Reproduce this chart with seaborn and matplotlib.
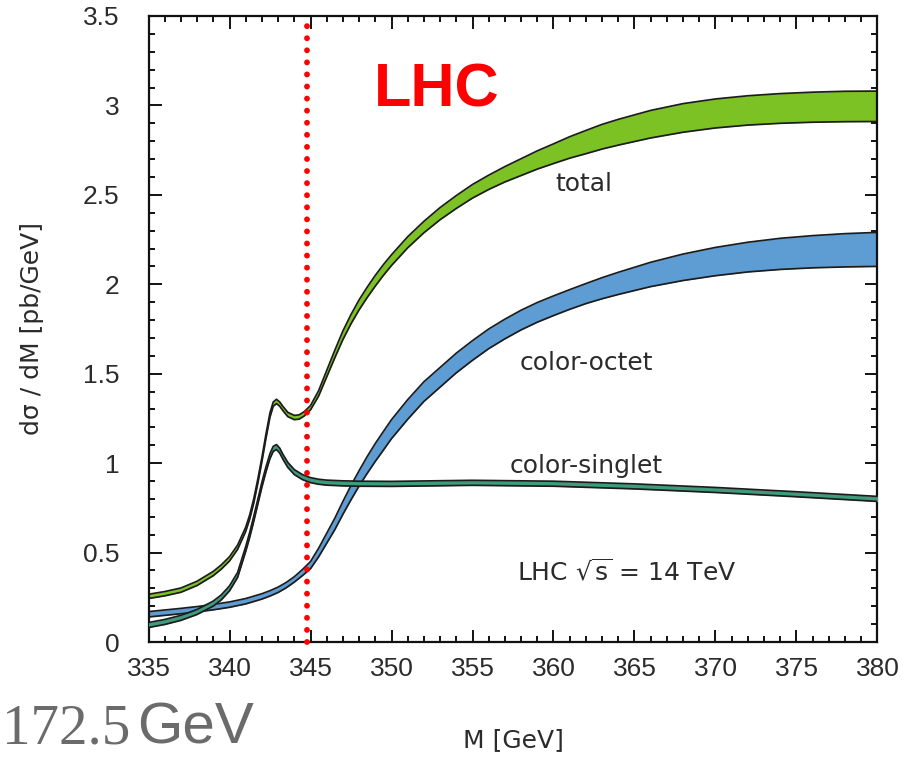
import numpy as np
import pandas as pd
import matplotlib
matplotlib.use("Agg")
import matplotlib.pyplot as plt
from matplotlib.ticker import MultipleLocator, FixedLocator, FixedFormatter
import seaborn as sns

# ---- data: top-pair invariant-mass distribution near threshold ----
# total (colour singlet + octet): central value and half-width of the band
m_total = [335, 336, 337, 338, 339, 339.5, 340, 340.5, 341, 341.25, 341.5, 341.75,
           342, 342.25, 342.5, 342.7, 342.9, 343.1, 343.3, 343.6, 344, 344.3,
           344.6, 345, 345.5, 346, 346.5, 347, 347.5, 348, 348.5, 349, 349.5, 350,
           351, 352, 353, 354, 355, 356, 357, 358, 359, 360, 361, 362, 363, 364,
           366, 368, 370, 372, 374, 376, 378, 380]
total_mid = [0.255, 0.270, 0.290, 0.328, 0.383, 0.420, 0.465, 0.530, 0.630, 0.700,
             0.790, 0.900, 1.020, 1.150, 1.270, 1.330, 1.345, 1.330, 1.305, 1.272,
             1.255, 1.258, 1.275, 1.310, 1.390, 1.500, 1.610, 1.715, 1.805, 1.885,
             1.955, 2.020, 2.080, 2.135, 2.235, 2.320, 2.395, 2.460, 2.520, 2.570,
             2.615, 2.655, 2.695, 2.730, 2.765, 2.795, 2.825, 2.850, 2.895, 2.930,
             2.955, 2.972, 2.983, 2.990, 2.994, 2.995]
total_half = [0.012, 0.012, 0.012, 0.012, 0.012, 0.012, 0.012, 0.012, 0.012, 0.012,
              0.012, 0.012, 0.012, 0.012, 0.012, 0.012, 0.012, 0.012, 0.012, 0.012,
              0.012, 0.012, 0.012, 0.012, 0.015, 0.018, 0.021, 0.024, 0.026, 0.028,
              0.029, 0.030, 0.030, 0.030, 0.031, 0.032, 0.034, 0.036, 0.038, 0.040,
              0.043, 0.047, 0.051, 0.055, 0.060, 0.065, 0.069, 0.072, 0.077, 0.080,
              0.081, 0.082, 0.083, 0.084, 0.085, 0.085]

# colour-octet contribution
m_octet = [335, 336, 337, 338, 339, 340, 341, 342, 342.5, 343, 343.5, 344, 344.5,
           345, 345.5, 346, 346.5, 347, 347.5, 348, 348.5, 349, 349.5, 350, 350.5,
           351, 352, 353, 354, 355, 356, 357, 358, 359, 360, 361, 362, 363, 364,
           366, 368, 370, 372, 374, 376, 378, 380]
octet_mid = [0.155, 0.164, 0.173, 0.183, 0.195, 0.209, 0.228, 0.255, 0.272, 0.292,
             0.318, 0.350, 0.388, 0.430, 0.500, 0.580, 0.660, 0.750, 0.835, 0.915,
             0.990, 1.060, 1.125, 1.190, 1.245, 1.300, 1.400, 1.480, 1.560, 1.630,
             1.695, 1.750, 1.800, 1.843, 1.880, 1.915, 1.948, 1.978, 2.005, 2.055,
             2.095, 2.127, 2.152, 2.170, 2.182, 2.190, 2.195]
octet_half = [0.015, 0.015, 0.015, 0.015, 0.015, 0.015, 0.015, 0.015, 0.015, 0.015,
              0.015, 0.015, 0.017, 0.020, 0.024, 0.028, 0.032, 0.036, 0.040, 0.043,
              0.047, 0.050, 0.052, 0.053, 0.054, 0.055, 0.055, 0.055, 0.055, 0.055,
              0.055, 0.055, 0.055, 0.055, 0.055, 0.055, 0.056, 0.059, 0.062, 0.068,
              0.074, 0.079, 0.083, 0.087, 0.090, 0.093, 0.095]

# colour-singlet contribution
m_singlet = [335, 336, 337, 338, 339, 339.5, 340, 340.5, 341, 341.25, 341.5, 341.75,
             342, 342.25, 342.5, 342.7, 342.9, 343.1, 343.3, 343.6, 344, 344.5,
             345, 345.5, 346, 347, 348, 350, 355, 360, 365, 370, 375, 380]
singlet_mid = [0.095, 0.112, 0.135, 0.168, 0.215, 0.250, 0.300, 0.375, 0.520,
               0.600, 0.690, 0.785, 0.880, 0.965, 1.040, 1.080, 1.090, 1.070,
               1.035, 0.990, 0.950, 0.922, 0.905, 0.896, 0.891, 0.887, 0.885,
               0.884, 0.890, 0.885, 0.870, 0.850, 0.826, 0.800]
singlet_half = [0.014] * len(m_singlet)

threshold = 344.8          # twice the top mass
x_ticks = [335, 340, 345, 350, 355, 360, 365, 370, 375, 380]
y_ticks = [0, 0.5, 1, 1.5, 2, 2.5, 3, 3.5]
x_tick_labels = ["335", "340", "345", "350", "355", "360", "365", "370", "375", "380"]
y_tick_labels = ["0", "0.5", "1", "1.5", "2", "2.5", "3", "3.5"]

# ---- style ----
sns.set_theme(style="white")
plt.rcParams["font.family"] = ["DejaVu Sans"]
plt.rcParams["mathtext.fontset"] = "dejavusans"

TEXT = "#2b2b2b"
EDGE = "#1c1c1c"
TICK_FONT = ["Liberation Sans", "DejaVu Sans"]

fig = plt.figure(figsize=(9.05, 7.57), dpi=100)
ax = fig.add_axes([0.1641, 0.1519, 0.8055, 0.8270])

bands = [
    ("total", m_total, total_mid, total_half, "#7cc224", 1),
    ("color-octet", m_octet, octet_mid, octet_half, "#5e9dd4", 2),
    ("color-singlet", m_singlet, singlet_mid, singlet_half, "#3e9c7d", 3),
]
for name, m, mid, half, col, z in bands:
    df = pd.DataFrame({"M": m, "mid": mid, "half": half})
    df["lo"] = df["mid"] - df["half"]
    df["hi"] = df["mid"] + df["half"]
    ax.fill_between(df["M"], df["lo"], df["hi"], color=col, lw=0, zorder=z)
    for edge in ("lo", "hi"):
        sns.lineplot(data=df, x="M", y=edge, color=EDGE, lw=1.25, ax=ax,
                     zorder=z + 0.1)

# threshold marker
ax.plot([threshold, threshold], [0, 3.5], color="#ff0000", lw=4.2,
        linestyle=(0, (0.01, 2.06)), dash_capstyle="round", zorder=6,
        clip_on=False)

ax.set_xlim(335, 380)
ax.set_ylim(0, 3.5)
ax.xaxis.set_major_locator(FixedLocator(x_ticks))
ax.xaxis.set_major_formatter(FixedFormatter(x_tick_labels))
ax.yaxis.set_major_locator(FixedLocator(y_ticks))
ax.yaxis.set_major_formatter(FixedFormatter(y_tick_labels))
ax.xaxis.set_minor_locator(MultipleLocator(1))
ax.yaxis.set_minor_locator(MultipleLocator(0.1))

for s in ax.spines.values():
    s.set_color("#111111")
    s.set_linewidth(1.6)
    s.set_visible(True)

ax.tick_params(which="both", direction="in", top=True, right=True,
               bottom=True, left=True, color="#111111", width=1.4)
ax.tick_params(which="major", length=9)
ax.tick_params(which="minor", length=4.5)
ax.tick_params(axis="x", which="major", labelsize=19, pad=11, labelcolor=TEXT)
ax.tick_params(axis="y", which="major", labelsize=19, pad=21, labelcolor=TEXT)
for lab in ax.get_xticklabels() + ax.get_yticklabels():
    lab.set_family(TICK_FONT)

ax.set_xlabel("M [GeV]", fontsize=18, color=TEXT, labelpad=34)
ax.set_ylabel("dσ / dM [pb/GeV]", fontsize=18, color=TEXT, labelpad=28)

ax.text(361.9, 2.56, "total", fontsize=18, color=TEXT, ha="center", va="center")
ax.text(362.0, 1.56, "color-octet", fontsize=18, color=TEXT, ha="center", va="center")
ax.text(362.0, 0.985, "color-singlet", fontsize=18, color=TEXT, ha="center", va="center")
ax.text(364.5, 0.39, r"LHC $\sqrt{\mathrm{s}}$ = 14 TeV", fontsize=18, color=TEXT,
        ha="center", va="center")
ax.text(352.8, 3.08, "LHC", fontsize=44, fontweight="bold", color="#ff0000",
        family=["Liberation Sans", "DejaVu Sans"], ha="center", va="center")

# top-mass value written below the frame
fig.text(2 / 905, 1 - 743 / 757, "172.5", fontsize=41, color="#6b6b6b",
         family=["Liberation Serif", "DejaVu Serif"], ha="left", va="baseline")
fig.text(137 / 905, 1 - 743 / 757, "GeV", fontsize=42, color="#6b6b6b",
         family=["Liberation Sans", "DejaVu Sans"], ha="left", va="baseline")

fig.savefig("out.png", dpi=100)
